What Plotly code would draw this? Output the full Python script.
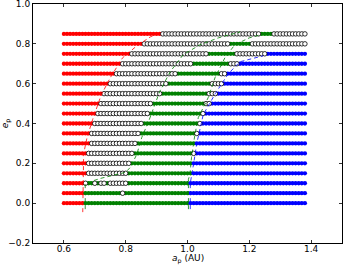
import plotly.graph_objects as go

# semi-major axis grid (AU) and eccentricity rows
a_values = [0.60, 0.61, 0.62, 0.63, 0.64, 0.65, 0.66, 0.67, 0.68, 0.69,
            0.70, 0.71, 0.72, 0.73, 0.74, 0.75, 0.76, 0.77, 0.78, 0.79,
            0.80, 0.81, 0.82, 0.83, 0.84, 0.85, 0.86, 0.87, 0.88, 0.89,
            0.90, 0.91, 0.92, 0.93, 0.94, 0.95, 0.96, 0.97, 0.98, 0.99,
            1.00, 1.01, 1.02, 1.03, 1.04, 1.05, 1.06, 1.07, 1.08, 1.09,
            1.10, 1.11, 1.12, 1.13, 1.14, 1.15, 1.16, 1.17, 1.18, 1.19,
            1.20, 1.21, 1.22, 1.23, 1.24, 1.25, 1.26, 1.27, 1.28, 1.29,
            1.30, 1.31, 1.32, 1.33, 1.34, 1.35, 1.36, 1.37, 1.38]

ecc_rows = [0.00, 0.05, 0.10, 0.15, 0.20, 0.25, 0.30, 0.35, 0.40,
            0.45, 0.50, 0.55, 0.60, 0.65, 0.70, 0.75, 0.80, 0.85]

# regime segments for each eccentricity row: (class, a_start, a_end)
# R = red, O = open (unstable), G = green, B = blue
segments = [
    [("R", 0.60, 0.66), ("G", 0.67, 1.00), ("B", 1.01, 1.38)],
    [("R", 0.60, 0.66), ("G", 0.67, 0.78), ("O", 0.79, 0.79), ("G", 0.80, 1.00), ("B", 1.01, 1.38)],
    [("R", 0.60, 0.66), ("O", 0.67, 0.67), ("G", 0.68, 0.69), ("O", 0.70, 0.70), ("G", 0.71, 0.71),
     ("O", 0.72, 0.73), ("G", 0.74, 0.74), ("O", 0.75, 0.80), ("G", 0.81, 1.00), ("B", 1.01, 1.38)],
    [("R", 0.60, 0.67), ("O", 0.68, 0.80), ("G", 0.81, 1.01), ("B", 1.02, 1.38)],
    [("R", 0.60, 0.67), ("O", 0.68, 0.81), ("G", 0.82, 1.01), ("B", 1.02, 1.38)],
    [("R", 0.60, 0.67), ("O", 0.68, 0.82), ("G", 0.83, 1.01), ("O", 1.02, 1.02), ("B", 1.03, 1.38)],
    [("R", 0.60, 0.68), ("O", 0.69, 0.83), ("G", 0.84, 1.02), ("B", 1.03, 1.38)],
    [("R", 0.60, 0.68), ("O", 0.69, 0.84), ("G", 0.85, 1.02), ("O", 1.03, 1.03), ("B", 1.04, 1.38)],
    [("R", 0.60, 0.69), ("O", 0.70, 0.85), ("G", 0.86, 1.03), ("O", 1.04, 1.04), ("B", 1.05, 1.38)],
    [("R", 0.60, 0.70), ("O", 0.71, 0.87), ("G", 0.88, 1.04), ("O", 1.05, 1.05), ("B", 1.06, 1.38)],
    [("R", 0.60, 0.71), ("O", 0.72, 0.88), ("G", 0.89, 1.05), ("O", 1.06, 1.07), ("B", 1.08, 1.38)],
    [("R", 0.60, 0.72), ("O", 0.73, 0.91), ("G", 0.92, 1.06), ("O", 1.07, 1.09), ("B", 1.10, 1.38)],
    [("R", 0.60, 0.74), ("O", 0.75, 0.93), ("G", 0.94, 1.07), ("O", 1.08, 1.11), ("B", 1.12, 1.38)],
    [("R", 0.60, 0.76), ("O", 0.77, 0.96), ("G", 0.97, 1.10), ("O", 1.11, 1.12), ("B", 1.13, 1.38)],
    [("R", 0.60, 0.78), ("O", 0.79, 1.01), ("G", 1.02, 1.13), ("O", 1.14, 1.16), ("B", 1.17, 1.38)],
    [("R", 0.60, 0.81), ("O", 0.82, 1.06), ("G", 1.07, 1.15), ("O", 1.16, 1.25), ("B", 1.26, 1.38)],
    [("R", 0.60, 0.85), ("O", 0.86, 1.13), ("G", 1.14, 1.20), ("O", 1.21, 1.38)],
    [("R", 0.60, 0.91), ("O", 0.92, 1.23), ("G", 1.24, 1.27), ("O", 1.28, 1.38)],
]

# boundary curves
red_curve_a = [0.661, 0.662, 0.664, 0.675, 0.693, 0.72, 0.75, 0.79, 0.836, 0.88, 0.91]
red_curve_e = [-0.045, 0.08, 0.25, 0.33, 0.42, 0.54, 0.63, 0.73, 0.79, 0.835, 0.855]

green_in_a = [0.669, 0.669, 0.72, 0.76, 0.80, 0.815, 0.836, 0.852, 0.874, 0.91, 0.944, 0.986, 1.04, 1.10, 1.17]
green_in_e = [-0.03, 0.10, 0.125, 0.14, 0.155, 0.18, 0.245, 0.33, 0.41, 0.56, 0.66, 0.745, 0.795, 0.83, 0.86]

green_out_a = [1.003, 1.003, 1.008, 1.013, 1.024, 1.035, 1.067, 1.089, 1.121, 1.153, 1.20, 1.26]
green_out_e = [-0.03, 0.12, 0.145, 0.23, 0.345, 0.43, 0.53, 0.63, 0.73, 0.795, 0.83, 0.855]

blue_curve_a = [1.009, 1.009, 1.02, 1.03, 1.051, 1.09, 1.132, 1.17, 1.245]
blue_curve_e = [-0.03, 0.10, 0.20, 0.30, 0.445, 0.55, 0.65, 0.71, 0.74]

x_ticks = [0.6, 0.8, 1.0, 1.2, 1.4]
y_ticks = [-0.2, 0.0, 0.2, 0.4, 0.6, 0.8, 1.0]

colors = {"R": "#ff0000", "G": "#008000", "B": "#0000ff"}

pts = {k: ([], []) for k in ["R", "G", "B", "O"]}
for e, segs in zip(ecc_rows, segments):
    for code, a0, a1 in segs:
        for a in a_values:
            if a0 - 1e-9 <= a <= a1 + 1e-9:
                pts[code][0].append(a)
                pts[code][1].append(e)

fig = go.Figure()
for code in ["R", "G", "B"]:
    fig.add_trace(go.Scatter(x=pts[code][0], y=pts[code][1], mode="markers",
                             marker=dict(size=4.3, color=colors[code], line=dict(width=0)),
                             showlegend=False, hoverinfo="skip"))
fig.add_trace(go.Scatter(x=pts["O"][0], y=pts["O"][1], mode="markers",
                         marker=dict(size=4.5, color="white", line=dict(width=0.8, color="black")),
                         showlegend=False, hoverinfo="skip"))

for xs, ys, c in [(red_curve_a, red_curve_e, "#ff0000"),
                  (green_in_a, green_in_e, "#008000"),
                  (green_out_a, green_out_e, "#008000"),
                  (blue_curve_a, blue_curve_e, "#0000ff")]:
    fig.add_trace(go.Scatter(x=xs, y=ys, mode="lines",
                             line=dict(color=c, width=0.8, dash="4px,3px"),
                             showlegend=False, hoverinfo="skip"))

font = dict(family="DejaVu Sans", size=9, color="black")
axis_common = dict(showline=True, linecolor="black", linewidth=1, mirror="allticks",
                   ticks="inside", ticklen=3, tickcolor="black", tickwidth=0.8,
                   showgrid=False, zeroline=False, ticklabeloverflow="allow",
                   tickfont=font)

fig.update_xaxes(range=[0.5, 1.5], tickvals=x_ticks, tickformat=".1f",
                 ticklabelstandoff=-3, **axis_common)
fig.update_yaxes(range=[-0.2, 1.0], tickvals=y_ticks, tickformat=".1f",
                 **axis_common)

fig.add_annotation(text="<i>a</i><sub>p</sub> (AU)", xref="paper", yref="paper",
                   x=0.5, y=-0.066, xanchor="center", yanchor="middle",
                   showarrow=False, font=font)
fig.add_annotation(text="<i>e</i><sub>p</sub>", xref="paper", yref="paper",
                   x=-0.088, y=0.5, xanchor="center", yanchor="middle",
                   textangle=-90, showarrow=False, font=font)

fig.update_layout(width=343, height=265,
                  margin=dict(l=33, r=1, t=4, b=22, autoexpand=False),
                  paper_bgcolor="white", plot_bgcolor="white")

fig.write_html("out.html", config={"displayModeBar": False, "staticPlot": True},
               post_script="document.body.style.margin='0';document.body.style.overflow='hidden';")
